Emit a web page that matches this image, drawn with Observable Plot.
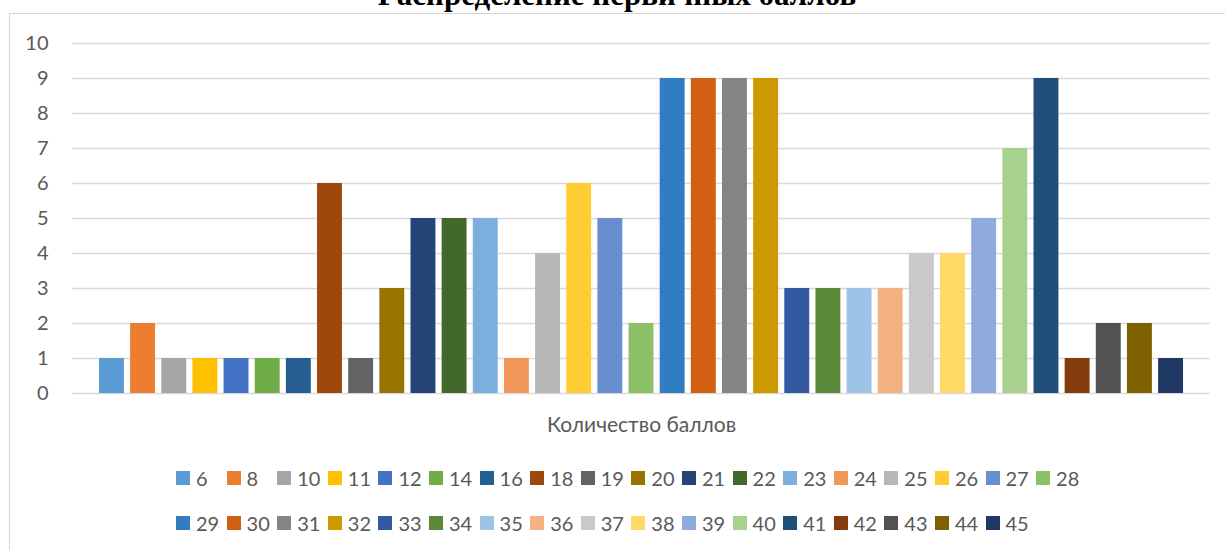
<!DOCTYPE html>
<html>
<head>
<meta charset="utf-8">
<script src="https://cdn.jsdelivr.net/npm/d3@7"></script>
<script src="https://cdn.jsdelivr.net/npm/@observablehq/plot@0.6"></script>
<style>
  html, body { margin: 0; padding: 0; background: #fff; }
  #wrap { position: relative; width: 1225px; height: 550px; overflow: hidden; background: #fff; }
  #frame { position: absolute; left: 9px; top: 13px; width: 1240px; height: 560px; border: 1px solid #d6d6d6; box-sizing: border-box; }
  #title { position: absolute; left: 0; top: -21px; width: 1234px; text-align: center;
           font: bold 31px "Liberation Serif", "Times New Roman", serif; line-height: 31px; color: #000; white-space: nowrap; }
  #chart { position: absolute; left: 0; top: 0; }
  #legend { position: absolute; left: 176px; top: 455px; width: 912px; display: flex; flex-wrap: wrap;
            font: 20px Lato, "Open Sans", sans-serif; color: #595959; }
  .item { flex: 0 0 50.6px; height: 45px; display: flex; align-items: center; white-space: nowrap; }
  .sw { width: 14px; height: 14px; margin-right: 6px; flex: 0 0 14px; }
</style>
</head>
<body>
<div id="wrap">
  <div id="frame"></div>
  <div id="title"></div>
  <div id="chart"></div>
  <div id="legend"></div>
</div>
<script>
const chartTitle = "Распределение первичных баллов";
const axisTitle = "Количество баллов";
const categories = ["6","8","10","11","12","14","16","18","19","20","21","22","23","24","25","26","27","28",
                    "29","30","31","32","33","34","35","36","37","38","39","40","41","42","43","44","45"];
const counts = [1,2,1,1,1,1,1,6,1,3,5,5,5,1,4,6,5,2,
                9,9,9,9,3,3,3,3,4,4,5,7,9,1,2,2,1];
const colors = ["#5B9BD5","#ED7D31","#A5A5A5","#FFC000","#4472C4","#70AD47",
                "#255E91","#9E480E","#636363","#997300","#264478","#43682B",
                "#7CAFDD","#F1975A","#B7B7B7","#FFCD33","#698ED0","#8CC168",
                "#327DC2","#D26012","#848484","#CC9A00","#335AA1","#5A8A39",
                "#9DC3E6","#F4B183","#C9C9C9","#FFD966","#8FAADC","#A9D18E",
                "#1F4E79","#843C0C","#525252","#7F6000","#203864"];
const yTicks = [0,1,2,3,4,5,6,7,8,9,10];

const data = categories.map((c, i) => ({cat: c, n: counts[i]}));

document.getElementById("title").textContent = chartTitle;

const chart = Plot.plot({
  width: 1225,
  height: 440,
  marginLeft: 72,
  marginRight: 15,
  marginTop: 43,
  marginBottom: 47,
  style: {fontFamily: "Lato, 'Open Sans', sans-serif", fontSize: "20px", color: "#595959", background: "transparent", overflow: "visible"},
  x: {type: "band", domain: categories, paddingInner: 0.2, paddingOuter: 0.866, round: false, axis: null},
  y: {domain: [0, 10], axis: null},
  color: {type: "ordinal", domain: categories, range: colors},
  marks: [
    Plot.gridY(yTicks, {stroke: "#d9d9d9", strokeOpacity: 1, strokeWidth: 1.5}),
    Plot.barY(data, {x: "cat", y: "n", fill: "cat"}),
    Plot.axisY(yTicks, {tickSize: 0, tickPadding: 24, label: null, fill: "#595959", fontSize: 20, tickFormat: d => String(d)}),
    Plot.text([axisTitle], {frameAnchor: "bottom", dy: 32, lineAnchor: "middle", fill: "#595959", fontSize: 21, text: d => d})
  ]
});
document.getElementById("chart").appendChild(chart);

const legend = document.getElementById("legend");
categories.forEach((c, i) => {
  const it = document.createElement("div");
  it.className = "item";
  const sw = document.createElement("span");
  sw.className = "sw";
  sw.style.background = colors[i];
  const lb = document.createElement("span");
  lb.textContent = c;
  it.appendChild(sw);
  it.appendChild(lb);
  legend.appendChild(it);
});
</script>
</body>
</html>
